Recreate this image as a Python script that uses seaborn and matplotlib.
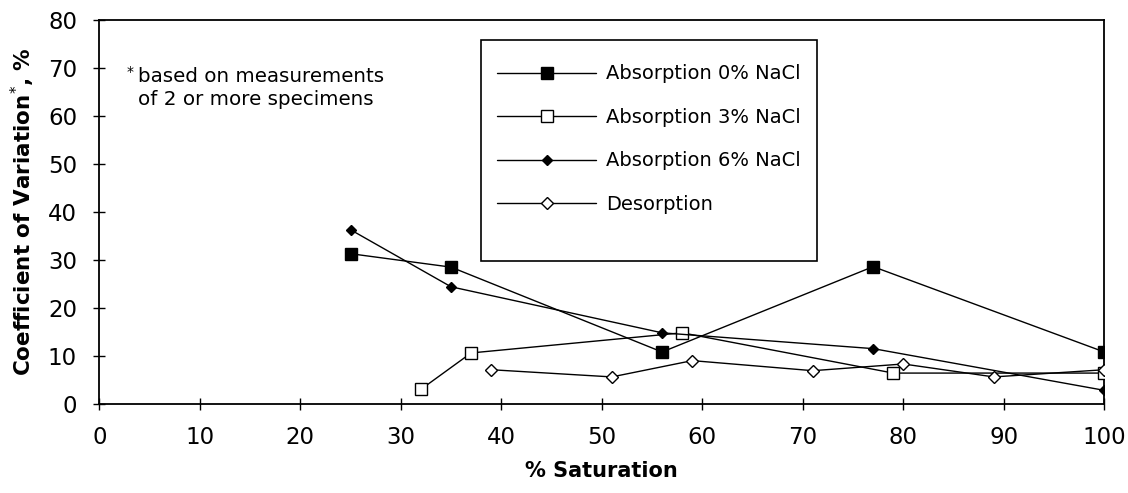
import pandas as pd
import matplotlib.pyplot as plt
from matplotlib.patches import Rectangle
import seaborn as sns

# data
abs0_x = [25, 35, 56, 77, 100]
abs0_y = [31.3, 28.5, 10.8, 28.6, 10.8]

abs3_x = [32, 37, 58, 79, 100]
abs3_y = [3.0, 10.6, 14.8, 6.4, 6.4]

abs6_x = [25, 35, 56, 77, 100]
abs6_y = [36.3, 24.4, 14.8, 11.5, 2.8]

des_x = [39, 51, 59, 71, 80, 89, 100]
des_y = [7.1, 5.6, 9.0, 6.9, 8.3, 5.6, 7.1]

labels = ["Absorption 0% NaCl", "Absorption 3% NaCl",
          "Absorption 6% NaCl", "Desorption"]

sns.set_style("ticks")
plt.rcParams['font.family'] = ['DejaVu Sans']
plt.rcParams['text.color'] = 'black'
plt.rcParams['axes.labelcolor'] = 'black'

fig = plt.figure(figsize=(11.28, 4.93), dpi=100)
ax = fig.add_axes([0.088, 0.181, 0.891, 0.778])

styles = [
    dict(marker='s', markerfacecolor='black', markersize=8),
    dict(marker='s', markerfacecolor='white', markersize=9),
    dict(marker='D', markerfacecolor='black', markersize=4.8),
    dict(marker='D', markerfacecolor='white', markersize=6),
]
series = [(abs0_x, abs0_y), (abs3_x, abs3_y), (abs6_x, abs6_y), (des_x, des_y)]

for (xs, ys), lab, st in zip(series, labels, styles):
    df = pd.DataFrame({"x": xs, "y": ys})
    sns.lineplot(data=df, x="x", y="y", ax=ax, color='black', linewidth=1.0,
                 markeredgecolor='black', markeredgewidth=1.0, label=lab,
                 zorder=3, **st)

ax.set_xlim(0, 100)
ax.set_ylim(0, 80)
ax.set_xticks(range(0, 101, 10))
ax.set_yticks(range(0, 81, 10))
ax.tick_params(direction='inout', length=8, width=1, labelsize=16.5, pad=12,
               colors='black')
for sp in ax.spines.values():
    sp.set_color('black')
    sp.set_linewidth(1.3)

ax.set_xlabel("% Saturation", fontsize=15, fontweight='bold', labelpad=9)
ax.set_ylabel("Coefficient of Variation$^{*}$, %", fontsize=15.5,
              fontweight='bold', labelpad=8)

# footnote
ax.text(0.027, 0.865, "*", transform=ax.transAxes, fontsize=10,
        va='center', ha='left')
ax.text(0.039, 0.823, "based on measurements\nof 2 or more specimens",
        transform=ax.transAxes, fontsize=14.3, va='center', ha='left',
        linespacing=1.3)

# legend box as drawn in the source
ax.add_patch(Rectangle((0.380, 0.372), 0.334, 0.576, transform=ax.transAxes,
                       facecolor='white', edgecolor='black', linewidth=1.2,
                       zorder=4))
leg = ax.legend(loc='upper left', bbox_to_anchor=(0.396, 0.885),
                fontsize=14, frameon=False,
                handlelength=5.1, labelspacing=1.26, borderpad=0,
                handletextpad=0.5, borderaxespad=0)
leg.set_zorder(5)

fig.savefig("out.png", dpi=100)
